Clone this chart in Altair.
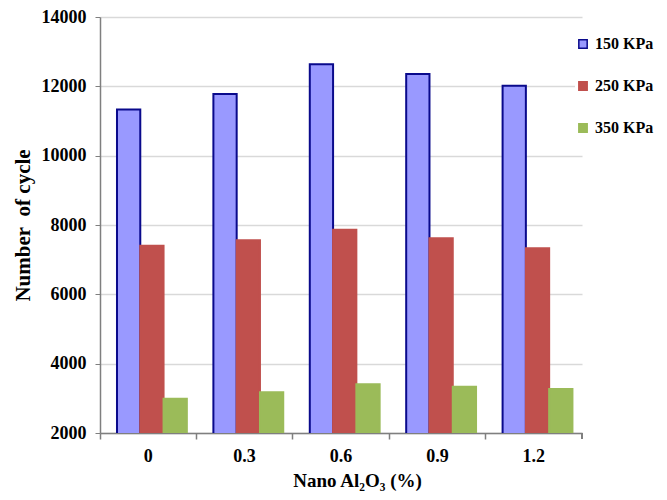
import altair as alt
import pandas as pd

categories = ["0", "0.3", "0.6", "0.9", "1.2"]
series_names = ["150 KPa", "250 KPa", "350 KPa"]
v150 = [11330, 11780, 12640, 12355, 12020]
v250 = [7400, 7560, 7860, 7615, 7330]
v350 = [2990, 3175, 3405, 3335, 3270]

rows = []
for s, vals in zip(series_names, [v150, v250, v350]):
    for c, v in zip(categories, vals):
        rows.append({"cat": c, "series": s, "value": v})
df = pd.DataFrame(rows)

FONT = "Liberation Serif"
W, H = 482, 416

fill_scale = alt.Scale(domain=series_names, range=["#9999FF", "#C0504D", "#9BBB59"])
stroke_scale = alt.Scale(domain=series_names, range=["#0A0A8C", "#C0504D", "#9BBB59"])

x_scale = alt.Scale(domain=categories, paddingInner=0, paddingOuter=0)

bars = alt.Chart(df).mark_bar(strokeWidth=2, clip=True).encode(
    x=alt.X("cat:N", sort=categories, scale=x_scale,
            axis=alt.Axis(title="Nano Al₂O₃ (%)", labelAngle=0, ticks=False, grid=False,
                          orient="bottom", domainColor="#7f7f7f", domainWidth=1.5,
                          labelPadding=14, titlePadding=6, labelFont=FONT, titleFont=FONT,
                          labelFontSize=18, titleFontSize=19, labelFontWeight="bold",
                          titleFontWeight="bold", labelColor="black", titleColor="black",
                          titleX=257)),
    xOffset=alt.XOffset("series:N", sort=series_names,
                        scale=alt.Scale(paddingInner=0, paddingOuter=0.57, align=0.64)),
    y=alt.Y("value:Q", scale=alt.Scale(domain=[2000, 14000], nice=False, zero=False),
            axis=alt.Axis(title="Number\u00a0\u00a0of cycle", values=list(range(2000, 14001, 2000)),
                          format="d", tickSize=5, tickColor="#7f7f7f", domainColor="#7f7f7f",
                          domainWidth=1.5, gridColor="#d9d9d9", gridWidth=1.5,
                          labelPadding=9, titlePadding=8, labelFont=FONT, titleFont=FONT,
                          labelFontSize=18, titleFontSize=21, labelFontWeight="bold",
                          titleFontWeight="bold", labelColor="black", titleColor="black")),
    fill=alt.Fill("series:N", scale=fill_scale, sort=series_names, title=None),
    stroke=alt.Stroke("series:N", scale=stroke_scale, sort=series_names, title=None),
)

ticks_layer = alt.Chart(df).mark_bar(opacity=0).encode(
    x=alt.X("cat:N", sort=categories, scale=x_scale,
            axis=alt.Axis(title=None, labels=False, domain=False, grid=False, ticks=True,
                          bandPosition=0, tickSize=6, tickColor="#7f7f7f", tickWidth=1.5,
                          orient="bottom")),
    y=alt.Y("value:Q"),
)

end_tick = alt.Chart(df).mark_rule(color="#7f7f7f", strokeWidth=1.5).encode(
    x=alt.value(W), y=alt.value(H), y2=alt.value(H + 6)
)

chart = alt.layer(bars, ticks_layer, end_tick).resolve_axis(x="independent").properties(
    width=W, height=H,
    autosize=alt.AutoSizeParams(type="none"),
    padding={"left": 92, "top": 9, "right": 76, "bottom": 58},
).configure_view(stroke=None).configure_legend(
    orient="none", legendX=475, legendY=19, labelFont=FONT, labelFontSize=16,
    labelFontWeight="bold", labelColor="black", symbolType="square", symbolSize=70,
    symbolStrokeWidth=1.5, rowPadding=26, labelOffset=4, padding=0, fillColor="white"
)

chart.save("out.html", embed_options={"renderer": "svg", "actions": False})
